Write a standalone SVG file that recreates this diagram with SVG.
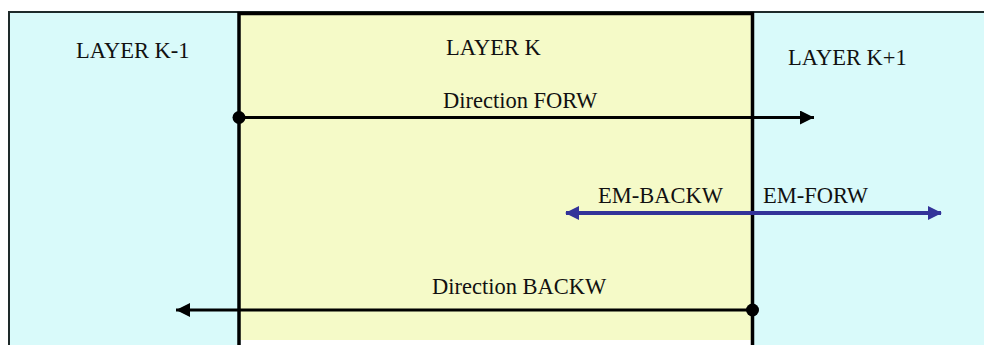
<svg xmlns="http://www.w3.org/2000/svg" width="984" height="345" viewBox="0 0 984 345">
  <style>
    text { font-family: "Liberation Serif", "Times New Roman", serif; font-size: 22.5px; fill: #111; }
    .dir { stroke: #000; stroke-width: 3; fill: none; }
    .em { stroke: #333399; stroke-width: 4; fill: none; }
  </style>
  <defs>
    <marker id="arrBlack" viewBox="0 0 14 14" refX="14" refY="7" markerWidth="14" markerHeight="14" markerUnits="userSpaceOnUse" orient="auto">
      <path d="M0,0 L14,7 L0,14 Z" fill="#000"/>
    </marker>
    <marker id="arrBlue" viewBox="0 0 14 14" refX="13" refY="7" markerWidth="14" markerHeight="14" markerUnits="userSpaceOnUse" orient="auto-start-reverse">
      <path d="M0,0 L14,7 L0,14 Z" fill="#333399"/>
    </marker>
  </defs>
  <rect x="0" y="0" width="984" height="345" fill="#ffffff"/>
  <g id="layer-k-minus-1">
    <rect x="9" y="12" width="990" height="345" fill="#D9FAFA" stroke="#1e2a2a" stroke-width="2"/>
    <text x="76" y="58">LAYER K-1</text>
  </g>
  <g id="layer-k">
    <rect x="239" y="13" width="513.5" height="327" fill="#F5FAC8"/>
    <rect x="241" y="340" width="510" height="10" fill="#ffffff"/>
    <path d="M239,350 L239,13.5 L752.5,13.5 L752.5,350" fill="none" stroke="#000" stroke-width="3.5"/>
    <text x="446" y="55">LAYER K</text>
  </g>
  <g id="layer-k-plus-1">
    <text x="788" y="65">LAYER K+1</text>
  </g>
  <g id="connectors">
    <line class="dir" x1="239" y1="117.5" x2="814" y2="117.5" marker-end="url(#arrBlack)"/>
    <circle cx="239" cy="117.5" r="6.5" fill="#000"/>
    <text x="443" y="108">Direction FORW</text>
    <line class="em" x1="566" y1="213" x2="941" y2="213" marker-start="url(#arrBlue)" marker-end="url(#arrBlue)"/>
    <text x="598" y="203">EM-BACKW</text>
    <text x="763" y="203">EM-FORW</text>
    <line class="dir" x1="752.5" y1="310" x2="176" y2="310" marker-end="url(#arrBlack)"/>
    <circle cx="752.5" cy="310" r="6.5" fill="#000"/>
    <text x="432" y="294">Direction BACKW</text>
  </g>
</svg>
